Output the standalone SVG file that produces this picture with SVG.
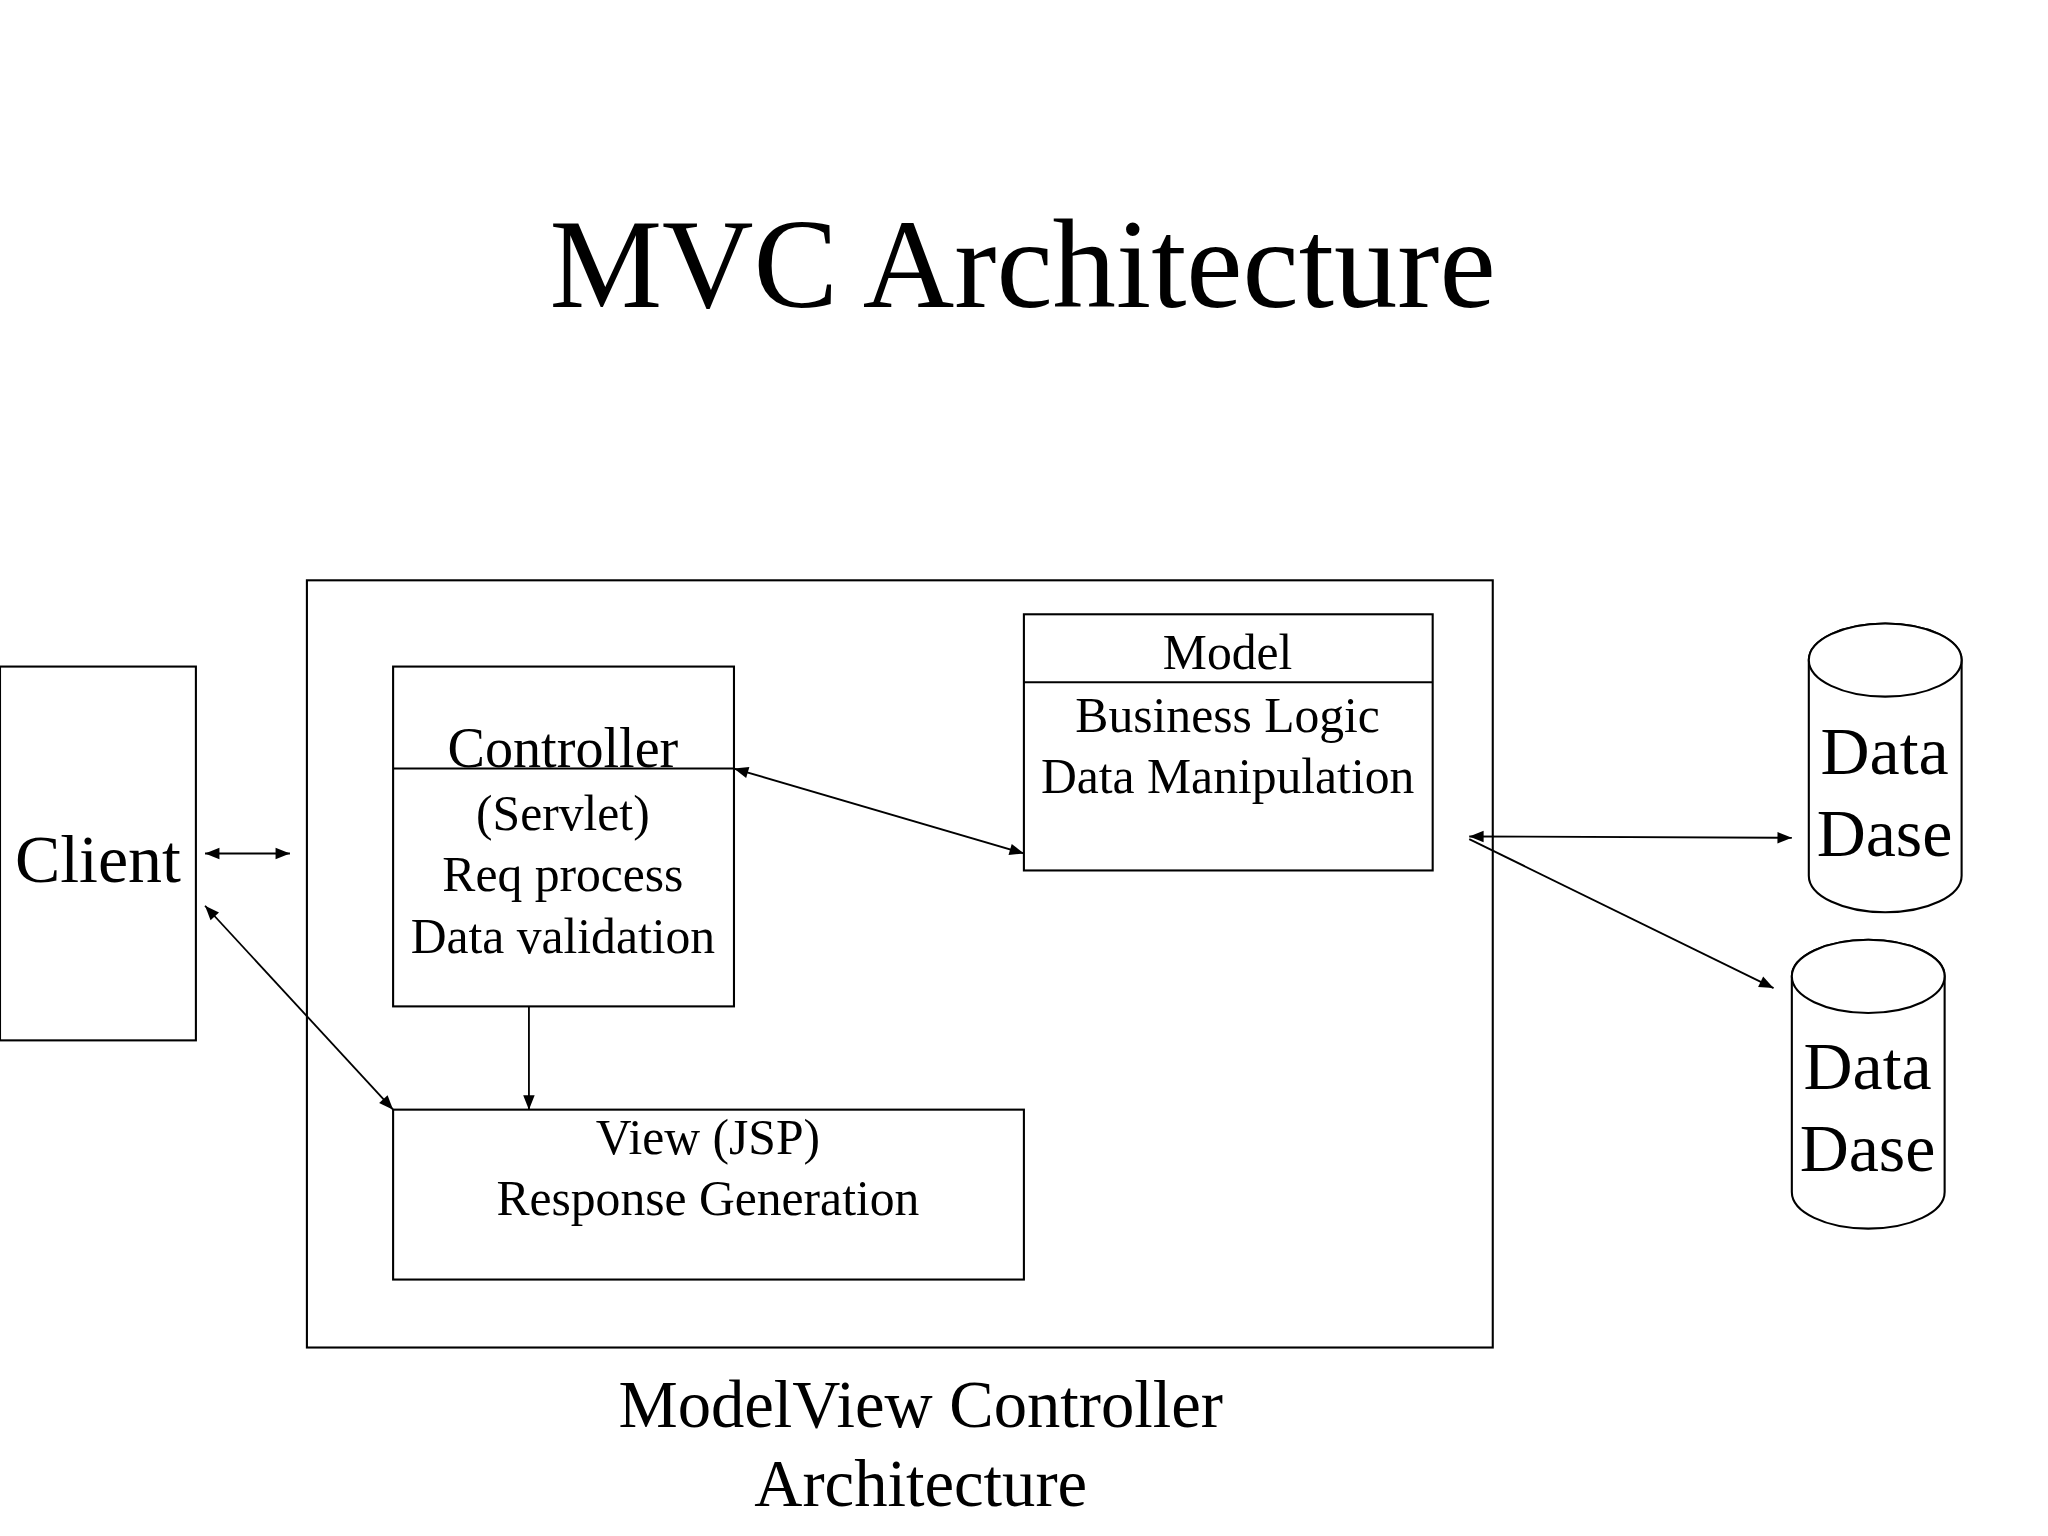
<svg xmlns="http://www.w3.org/2000/svg" width="2048" height="1536" viewBox="0 0 2048 1536">
<defs>
<marker id="a" viewBox="0 0 10 10" refX="10" refY="5" markerWidth="14" markerHeight="11" markerUnits="userSpaceOnUse" orient="auto-start-reverse"><path d="M0,1 L10,5 L0,9 z" fill="#000"/></marker>
<style>
.b{fill:#fff;stroke:#000;stroke-width:1.6}
.l{stroke:#000;stroke-width:1.4;fill:none}
text{font-family:"Liberation Serif","Times New Roman",serif;fill:#000;text-anchor:middle}
.m{font-size:38px}
.g{font-size:52px}
</style>
</defs>
<rect width="2048" height="1536" fill="#fff"/>
<g transform="scale(1.306,1.307)">
<text x="783" y="235" style="font-size:97px">MVC Architecture</text>
<g id="outer"><rect class="b" x="235" y="444" width="908" height="587"/></g>
<g id="client"><rect class="b" x="0" y="510" width="150" height="286"/><text class="g" x="75" y="675">Client</text></g>
<g id="controller"><rect class="b" x="301" y="510" width="261" height="260"/><line class="l" x1="301" y1="588" x2="562" y2="588"/>
<text x="431" y="587" style="font-size:43px">Controller</text>
<text class="m" x="431" y="635">(Servlet)</text><text class="m" x="431" y="682">Req process</text><text class="m" x="431" y="729">Data validation</text></g>
<g id="model"><rect class="b" x="784" y="470" width="313" height="196"/><line class="l" x1="784" y1="522" x2="1097" y2="522"/>
<text class="m" x="940" y="512">Model</text><text class="m" x="940" y="560">Business Logic</text><text class="m" x="940" y="607">Data Manipulation</text></g>
<g id="view"><rect class="b" x="301" y="849" width="483" height="130"/>
<text class="m" x="542" y="883">View (JSP)</text><text class="m" x="542" y="930">Response Generation</text></g>
<g id="db1"><path class="b" d="M1385,505 V670 A58.5,28 0 0 0 1502,670 V505 A58.5,28 0 0 0 1385,505 Z"/><ellipse class="b" cx="1443.5" cy="505" rx="58.5" ry="28"/>
<text class="g" x="1443" y="592">Data</text><text class="g" x="1443" y="655">Dase</text></g>
<g id="db2"><path class="b" d="M1372,747 V912 A58.5,28 0 0 0 1489,912 V747 A58.5,28 0 0 0 1372,747 Z"/><ellipse class="b" cx="1430.5" cy="747" rx="58.5" ry="28"/>
<text class="g" x="1430" y="833">Data</text><text class="g" x="1430" y="896">Dase</text></g>
<text x="705" y="1092" style="font-size:51px">ModelView Controller</text>
<text x="705" y="1152" style="font-size:51px">Architecture</text>
<g id="connectors" class="l">
<line x1="157" y1="653" x2="222" y2="653" marker-start="url(#a)" marker-end="url(#a)"/>
<line x1="562" y1="588" x2="784" y2="653" marker-start="url(#a)" marker-end="url(#a)"/>
<line x1="405" y1="770" x2="405" y2="849" marker-end="url(#a)"/>
<line x1="157" y1="693" x2="301" y2="849" marker-start="url(#a)" marker-end="url(#a)"/>
<line x1="1125" y1="640" x2="1372" y2="641" marker-start="url(#a)" marker-end="url(#a)"/>
<line x1="1125" y1="642" x2="1358" y2="756" marker-end="url(#a)"/>
</g>
</g>
</svg>
